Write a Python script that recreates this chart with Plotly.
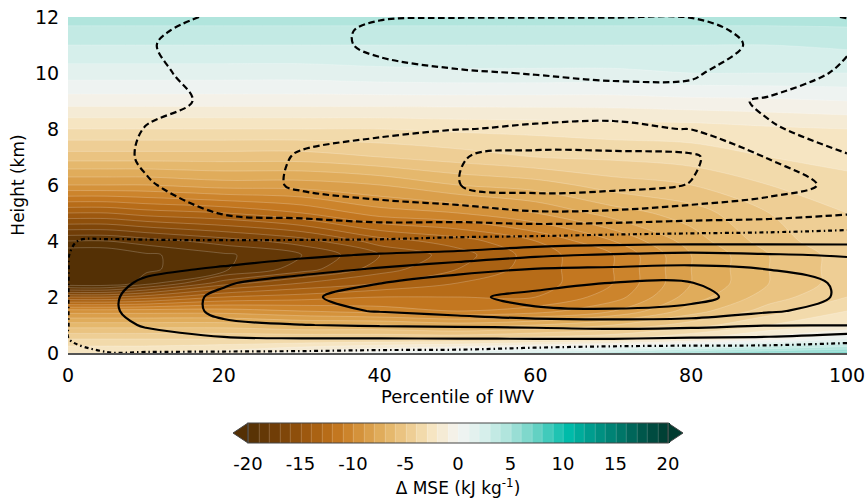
import plotly.graph_objects as go

# Grid: percentile of column water vapour (x) and height in km (y)
percentile = [0, 5, 10, 20, 30, 40, 50, 60, 70, 80, 90, 100]
height_km = [0, 0.5, 1, 1.5, 2, 2.5, 3, 3.5, 4, 5, 6, 7, 8, 9, 10, 11, 11.5, 12]

# Shaded field: MSE anomaly (kJ/kg), one row per height
mse_anom = [
    [-2.0, -2.0, -2.0, -1.5, -0.5, 0.5, 1.5, 2.5, 3.5, 5.0, 6.0, 6.5],
    [-4.0, -4.0, -4.0, -4.0, -4.0, -4.0, -4.0, -3.5, -3.0, -2.0, -0.5, 1.0],
    [-6.5, -6.5, -6.5, -6.5, -7.0, -7.0, -7.5, -7.0, -6.0, -4.5, -3.0, -2.0],
    [-9.5, -9.5, -9.5, -9.5, -10.0, -10.5, -11.0, -10.5, -9.0, -6.5, -4.5, -3.0],
    [-15.0, -15.0, -14.5, -13.0, -12.5, -12.0, -12.0, -12.0, -10.5, -7.5, -5.5, -4.0],
    [-21.0, -21.0, -19.5, -16.5, -15.0, -14.0, -13.0, -12.5, -11.0, -8.0, -6.0, -4.5],
    [-22.0, -22.0, -20.2, -19.2, -17.5, -15.5, -14.0, -12.5, -11.0, -8.0, -6.0, -4.5],
    [-21.0, -21.0, -20.2, -19.2, -18.0, -16.0, -14.5, -12.5, -11.0, -8.0, -6.0, -4.5],
    [-19.0, -19.0, -18.5, -17.5, -16.5, -14.5, -13.5, -12.0, -10.0, -7.5, -5.5, -4.2],
    [-14.0, -14.0, -13.5, -13.0, -12.0, -10.5, -10.0, -9.0, -7.5, -6.5, -5.0, -4.0],
    [-9.0, -9.0, -9.0, -8.5, -8.5, -8.0, -7.0, -6.5, -5.5, -5.0, -4.0, -3.5],
    [-5.5, -5.5, -5.5, -5.5, -5.5, -5.0, -4.5, -4.0, -3.8, -3.5, -3.0, -2.5],
    [-3.0, -3.0, -3.0, -3.0, -3.0, -3.0, -2.8, -2.7, -2.5, -2.5, -2.2, -2.0],
    [-0.5, -0.5, -0.5, -0.5, -0.5, -0.5, -0.5, -0.5, -0.5, -0.3, -0.2, 0.0],
    [1.5, 1.5, 1.5, 1.5, 1.5, 1.7, 1.8, 1.8, 1.8, 2.0, 2.0, 2.0],
    [3.0, 3.0, 3.0, 3.0, 3.0, 3.0, 3.0, 3.0, 3.0, 3.0, 3.0, 3.2],
    [3.7, 3.7, 3.7, 3.7, 3.7, 3.7, 3.7, 3.7, 3.7, 3.7, 3.7, 3.8],
    [4.5, 4.5, 4.5, 4.5, 4.5, 4.5, 4.5, 4.5, 4.5, 4.5, 4.5, 4.5],
]

# Overlaid field drawn as black contour lines
line_field = [
    [-0.01, -0.03, -0.05, -0.1, -0.15, -0.25, -0.3, -0.6, -0.9, -0.95, -0.98, -0.99],
    [-0.01, 0.4, 0.6, 0.85, 0.95, 0.95, 0.97, 0.98, 0.98, 0.85, 0.8, 0.4],
    [-0.01, 0.65, 1.1, 1.85, 1.98, 2.1, 2.15, 2.25, 2.4, 2.3, 2.05, 2.05],
    [-0.01, 0.8, 1.4, 2.2, 2.75, 3.05, 3.4, 3.9, 3.9, 3.75, 3.1, 2.65],
    [-0.01, 0.8, 1.4, 2.2, 2.85, 3.4, 3.85, 4.2, 4.5, 4.25, 3.55, 2.85],
    [-0.01, 0.7, 1.15, 1.9, 2.5, 2.98, 3.45, 3.75, 4.02, 4.03, 3.45, 2.85],
    [-0.01, 0.5, 0.8, 1.1, 1.6, 2.1, 2.7, 3.02, 3.15, 3.25, 2.98, 2.6],
    [-0.01, 0.3, 0.4, 0.6, 0.8, 1.1, 1.3, 1.85, 2.1, 2.3, 2.1, 1.9],
    [-0.01, 0.03, 0.03, 0.03, 0.05, 0.1, 0.25, 0.4, 0.55, 0.6, 0.65, 0.7],
    [-0.3, -0.4, -0.6, -1.05, -1.25, -1.55, -1.6, -1.9, -1.85, -1.6, -1.45, -1.1],
    [-0.5, -0.7, -0.95, -1.3, -2.2, -2.5, -2.98, -3.45, -3.3, -2.97, -2.4, -1.75],
    [-0.6, -0.8, -1.08, -1.4, -2.1, -2.35, -2.95, -3.3, -3.25, -3.15, -1.95, -1.97],
    [-0.6, -0.8, -1.02, -1.35, -1.7, -1.85, -1.98, -2.07, -2.1, -1.98, -1.95, -2.2],
    [-0.5, -0.7, -0.85, -1.1, -1.5, -1.6, -1.7, -1.7, -1.75, -1.7, -2.1, -2.3],
    [-0.5, -0.7, -0.9, -1.19, -1.6, -1.8, -1.95, -2.02, -2.1, -2.1, -1.5, -2.15],
    [-0.5, -0.8, -0.93, -1.43, -1.7, -2.15, -2.3, -2.4, -2.45, -2.4, -1.8, -1.9],
    [-0.5, -0.8, -0.9, -1.23, -1.7, -2.15, -2.3, -2.4, -2.4, -2.3, -1.7, -1.9],
    [-0.5, -0.8, -0.85, -1.07, -1.7, -1.95, -1.98, -1.98, -1.98, -1.98, -1.9, -2.01],
]

x_ticks = [0, 20, 40, 60, 80, 100]
y_ticks = [0, 2, 4, 6, 8, 10, 12]
cbar_ticks = [-20, -15, -10, -5, 0, 5, 10, 15, 20]

# Brown-white-teal diverging scale
brbg = [
    [0.00, "#543005"], [0.06, "#6e3c07"], [0.12, "#93520c"], [0.18, "#b46816"],
    [0.22, "#c67b22"], [0.27, "#d6963f"], [0.32, "#e2b060"], [0.38, "#edcb8e"],
    [0.44, "#f6e6c4"], [0.50, "#f4f4f2"], [0.56, "#d8efec"], [0.62, "#abe3db"],
    [0.68, "#6dd3c6"], [0.74, "#1cc2b1"], [0.76, "#00bcaa"], [0.82, "#00998a"],
    [0.88, "#007a6c"], [0.94, "#00564a"], [1.00, "#003a2f"],
]

FONT = "DejaVu Sans"
W, H = 866, 504
ML, MR, MT, MB = 68, 19, 17, 151
PW, PH = W - ML - MR, H - MT - MB

# colour bar geometry (paper units)
cb_len = 420 / PW
cb_x = (458 - ML) / PW
cb_y = -(423 - (H - MB)) / PH
cb_thick = 20

fig = go.Figure()

fig.add_trace(go.Contour(
    x=percentile, y=height_km, z=mse_anom,
    colorscale=brbg, zmin=-20, zmax=20,
    autocontour=False,
    contours=dict(start=-20, end=20, size=1, coloring="fill", showlines=True),
    line=dict(color="rgba(255,255,255,0.35)", width=0.6, smoothing=0.9),
    colorbar=dict(
        orientation="h", thickness=cb_thick, len=cb_len, lenmode="fraction",
        x=cb_x, xanchor="center", y=cb_y, yanchor="top", xpad=0, ypad=0,
        outlinecolor="#444", outlinewidth=1,
        tickmode="array", tickvals=cbar_ticks,
        ticktext=[str(v) for v in cbar_ticks],
        tickfont=dict(family=FONT, size=18, color="black"),
        ticks="outside", ticklen=5, tickcolor="rgba(0,0,0,0)",
        title=dict(text="Δ MSE (kJ kg<sup>-1</sup>)", side="bottom",
                   font=dict(family=FONT, size=17, color="black")),
    ),
    hoverinfo="skip",
))

line_sets = [
    (1, 4, "solid"),
    (-3, -1, "6.5px,3.5px"),
    (0, 0, "4px,3px,1.5px,3px"),
]
for lo, hi, dash in line_sets:
    fig.add_trace(go.Contour(
        x=percentile, y=height_km, z=line_field,
        autocontour=False,
        contours=dict(start=lo, end=hi, size=1, coloring="none"),
        line=dict(color="black", width=2.2, dash=dash, smoothing=1.0),
        showscale=False, hoverinfo="skip",
    ))

# extension triangles at both ends of the colour bar
bar_left = cb_x - cb_len / 2
bar_right = cb_x + cb_len / 2
tip = 15 / PW
y_top = cb_y
y_bot = cb_y - cb_thick / PH
y_mid = (y_top + y_bot) / 2
for base, end, col in [(bar_left, bar_left - tip, brbg[0][1]),
                       (bar_right, bar_right + tip, brbg[-1][1])]:
    fig.add_shape(
        type="path", xref="paper", yref="paper",
        path=f"M {base},{y_top} L {end},{y_mid} L {base},{y_bot} Z",
        fillcolor=col, line=dict(color="#444", width=1),
    )

fig.update_layout(
    width=W, height=H,
    margin=dict(l=ML, r=MR, t=MT, b=MB, autoexpand=False),
    paper_bgcolor="white", plot_bgcolor="white",
    font=dict(family=FONT, color="black"),
    showlegend=False,
    xaxis=dict(
        range=[0, 100], tickmode="array", tickvals=x_ticks, automargin=False,
        showgrid=False, zeroline=False, showline=True, linecolor="#555", linewidth=1.5,
        ticks="outside", ticklen=4, tickcolor="rgba(0,0,0,0)",
        tickfont=dict(family=FONT, size=19),
        title=dict(text="Percentile of IWV", font=dict(family=FONT, size=18), standoff=4),
    ),
    yaxis=dict(
        range=[0, 12], tickmode="array", tickvals=y_ticks, automargin=False,
        showgrid=False, zeroline=False, showline=False,
        ticks="outside", ticklen=4, tickcolor="rgba(0,0,0,0)",
        tickfont=dict(family=FONT, size=19),
        title=dict(text="Height (km)", font=dict(family=FONT, size=17), standoff=6),
    ),
)

fig.write_html("out.html")
